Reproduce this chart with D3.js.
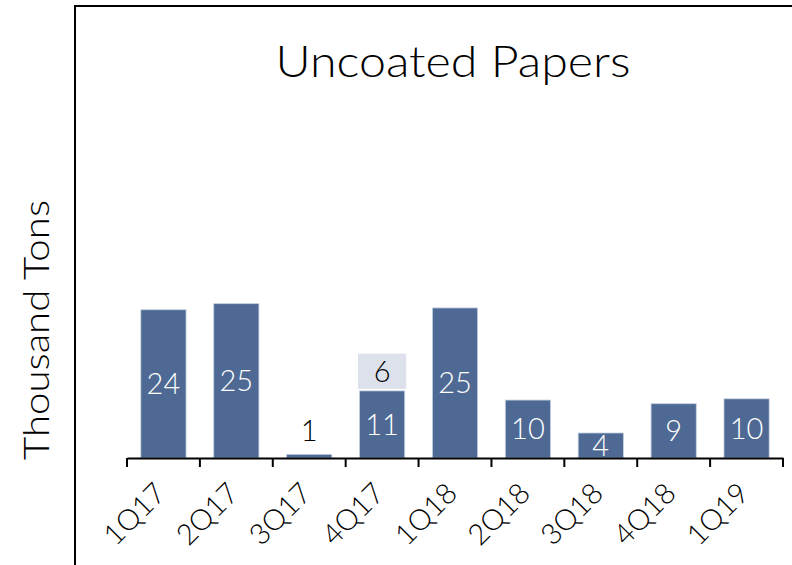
<!DOCTYPE html>
<html>
<head>
<meta charset="utf-8">
<script src="https://cdn.jsdelivr.net/npm/d3@7"></script>
<style>
  body { margin: 0; background: #fff; }
  text { font-family: "Lato", "DejaVu Sans", sans-serif; font-weight: 300; }
</style>
</head>
<body>
<svg id="chart"></svg>
<script>
var quarters = ["1Q17","2Q17","3Q17","4Q17","1Q18","2Q18","3Q18","4Q18","1Q19"]
var baseValues = [24.3, 25.3, 0.6, 11.0, 24.6, 9.5, 4.1, 8.9, 9.7]
var baseLabels = ["24","25","1","11","25","10","4","9","10"]
var extraValues = [0, 0, 0, 6.1, 0, 0, 0, 0, 0]
var extraLabels = ["","","","6","","","","",""]

var screen = {width: 792, height: 565}
var margins = {left: 127, right: 9, top: 153, bottom: 107}

var graph =
    {
        width: screen.width - margins.left - margins.right,
        height: screen.height - margins.top - margins.bottom
    }

var svg = d3.select("#chart")
    .attr("width", screen.width)
    .attr("height", screen.height)

// frame lines (left and top)
svg.append("path")
    .attr("d", "M75,565 L75,6 L792,6")
    .attr("fill", "none")
    .attr("stroke", "black")
    .attr("stroke-width", 2)

var xScale = d3.scaleBand()
    .domain(quarters)
    .range([0, graph.width])
    .paddingInner(0.38)
    .paddingOuter(0.19)

var yScale = d3.scaleLinear()
    .domain([0, 50])
    .range([graph.height, 0])

var target = svg.append("g")
    .attr("transform", "translate(" + margins.left + "," + margins.top + ")")

var data = quarters.map(function(q, i) {
    return {q: q, base: baseValues[i], extra: extraValues[i], bl: baseLabels[i], el: extraLabels[i]}
})

// base bars
target.selectAll("rect.base")
    .data(data)
    .enter()
    .append("rect")
    .classed("base", true)
    .attr("x", function(d) { return xScale(d.q) })
    .attr("y", function(d) { return yScale(d.base) })
    .attr("width", xScale.bandwidth())
    .attr("height", function(d) { return graph.height - yScale(d.base) })
    .attr("fill", "#4e6a94")
    .attr("stroke", "#c4cfe0")
    .attr("stroke-width", 0.8)

// stacked extra segment
var extra = data.filter(function(d) { return d.extra > 0 })
target.selectAll("rect.extra")
    .data(extra)
    .enter()
    .append("rect")
    .classed("extra", true)
    .attr("x", function(d) { return xScale(d.q) - 1.5 })
    .attr("y", function(d) { return yScale(d.base + d.extra) })
    .attr("width", xScale.bandwidth() + 3)
    .attr("height", function(d) { return yScale(d.base) - yScale(d.base + d.extra) - 2 })
    .attr("fill", "#dce1ec")

// labels inside base bars
target.selectAll("text.blabel")
    .data(data)
    .enter()
    .append("text")
    .classed("blabel", true)
    .attr("x", function(d) { return xScale(d.q) + xScale.bandwidth() / 2 })
    .attr("y", function(d) {
        if (d.base < 2) return yScale(d.base) - 13
        return (yScale(d.base) + graph.height) / 2
    })
    .attr("dy", function(d) { return d.base < 2 ? 0 : "0.36em" })
    .attr("text-anchor", "middle")
    .attr("font-size", 29)
    .attr("fill", function(d) { return d.base < 2 ? "black" : "white" })
    .text(function(d) { return d.bl })

target.selectAll("text.elabel")
    .data(extra)
    .enter()
    .append("text")
    .classed("elabel", true)
    .attr("x", function(d) { return xScale(d.q) + xScale.bandwidth() / 2 })
    .attr("y", function(d) { return (yScale(d.base + d.extra) + yScale(d.base)) / 2 - 1 })
    .attr("dy", "0.36em")
    .attr("text-anchor", "middle")
    .attr("font-size", 29)
    .attr("fill", "black")
    .text(function(d) { return d.el })

// x axis
var xAxis = d3.axisBottom(xScale).tickSize(0).tickFormat("")
var axis = target.append("g")
    .attr("transform", "translate(0," + graph.height + ")")
    .call(xAxis)
axis.select(".domain").attr("stroke", "black").attr("stroke-width", 2)

var step = xScale.step()
var boundaries = d3.range(quarters.length + 1)
axis.selectAll("line.tick-mark")
    .data(boundaries)
    .enter()
    .append("line")
    .classed("tick-mark", true)
    .attr("x1", function(i) { return xScale(quarters[0]) - step * 0.19 + i * step })
    .attr("x2", function(i) { return xScale(quarters[0]) - step * 0.19 + i * step })
    .attr("y1", 0)
    .attr("y2", 9)
    .attr("stroke", "black")
    .attr("stroke-width", 2)

// rotated tick labels
axis.selectAll("text.qlabel")
    .data(quarters)
    .enter()
    .append("text")
    .classed("qlabel", true)
    .attr("transform", function(q) {
        return "translate(" + (xScale(q) + xScale.bandwidth() / 2 + 4) + ",37) rotate(-45)"
    })
    .attr("text-anchor", "end")
    .attr("font-size", 29)
    .attr("fill", "black")
    .text(function(q) { return q })

// title and axis label
svg.append("text")
    .text("Uncoated Papers")
    .attr("x", 453)
    .attr("y", 77)
    .attr("text-anchor", "middle")
    .attr("font-size", 43)
    .attr("textLength", 355)
    .attr("lengthAdjust", "spacingAndGlyphs")

svg.append("g")
    .attr("transform", "translate(49,330)")
    .append("text")
    .text("Thousand Tons")
    .attr("text-anchor", "middle")
    .attr("transform", "rotate(270)")
    .attr("font-size", 35)
    .attr("textLength", 260)
    .attr("lengthAdjust", "spacingAndGlyphs")
</script>
</body>
</html>
